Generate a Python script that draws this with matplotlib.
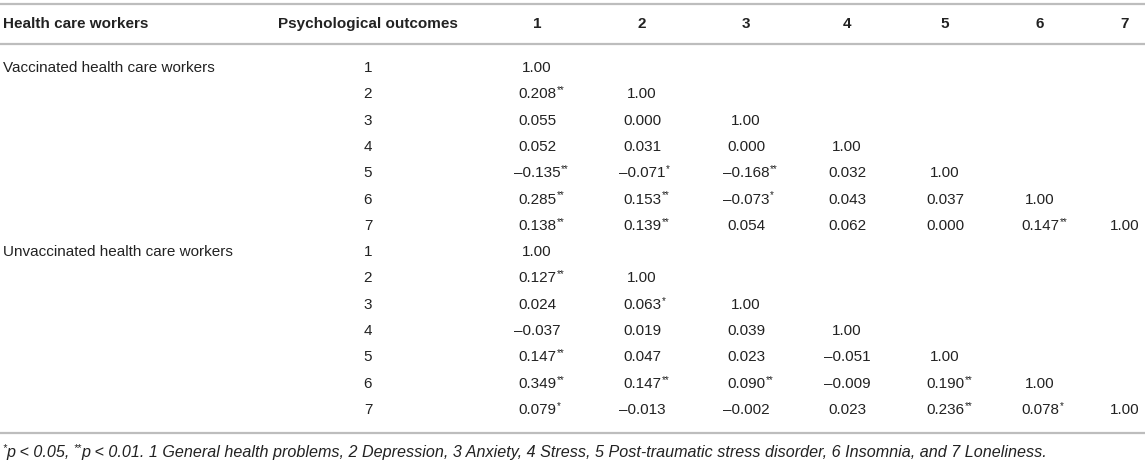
import matplotlib
matplotlib.use("Agg")
import matplotlib.pyplot as plt

plt.rcParams['font.family'] = ['Liberation Sans', 'DejaVu Sans']

# table content
groups = ["Vaccinated health care workers", "Unvaccinated health care workers"]
col_labels = ["1", "2", "3", "4", "5", "6", "7"]
vaccinated = [
    ["1.00"],
    ["0.208**", "1.00"],
    ["0.055", "0.000", "1.00"],
    ["0.052", "0.031", "0.000", "1.00"],
    ["\u20130.135**", "\u20130.071*", "\u20130.168**", "0.032", "1.00"],
    ["0.285**", "0.153**", "\u20130.073*", "0.043", "0.037", "1.00"],
    ["0.138**", "0.139**", "0.054", "0.062", "0.000", "0.147**", "1.00"],
]
unvaccinated = [
    ["1.00"],
    ["0.127**", "1.00"],
    ["0.024", "0.063*", "1.00"],
    ["\u20130.037", "0.019", "0.039", "1.00"],
    ["0.147**", "0.047", "0.023", "\u20130.051", "1.00"],
    ["0.349**", "0.147**", "0.090**", "\u20130.009", "0.190**", "1.00"],
    ["0.079*", "\u20130.013", "\u20130.002", "0.023", "0.236**", "0.078*", "1.00"],
]
footnote = [("*", True), ("p < 0.05, ", False), ("**", True),
            ("p < 0.01. 1 General health problems, 2 Depression, 3 Anxiety, 4 Stress, "
             "5 Post-traumatic stress disorder, 6 Insomnia, and 7 Loneliness.", False)]

W, H = 1145, 461
fig = plt.figure(figsize=(W / 100, H / 100), dpi=100)
ax = fig.add_axes([0, 0, 1, 1])
ax.set_xlim(0, W)
ax.set_ylim(H, 0)
ax.axis("off")

txt = "#222222"
line_c = "#bdbdbd"
fs = 11
col_x = [537, 642, 746, 847, 945, 1040, 1125]
num_x = 368
row0, row_h = 68, 26.3

fig.canvas.draw()
renderer = fig.canvas.get_renderer()
inv = ax.transData.inverted()


def right_edge(t):
    bb = t.get_window_extent(renderer)
    return inv.transform((bb.x1, bb.y1))[0]


# rules
for y in (4, 44, 433):
    ax.plot([0, W], [y, y], color=line_c, lw=1.6, solid_capstyle="butt")

# header
ax.text(3, 24, "Health care workers", fontsize=fs, fontweight="bold", color=txt,
        ha="left", va="center")
ax.text(num_x, 24, "Psychological outcomes", fontsize=fs, fontweight="bold",
        color=txt, ha="center", va="center")
for x, lab in zip(col_x, col_labels):
    ax.text(x, 24, lab, fontsize=fs, fontweight="bold", color=txt,
            ha="center", va="center")

row = 0
for g, block in zip(groups, [vaccinated, unvaccinated]):
    for i, cells in enumerate(block):
        y = row0 + row * row_h
        if i == 0:
            ax.text(3, y, g, fontsize=fs, color=txt, ha="left", va="center")
        ax.text(num_x, y, str(i + 1), fontsize=fs, color=txt, ha="center", va="center")
        for j, cell in enumerate(cells):
            num = cell.rstrip("*")
            stars = cell[len(num):]
            t = ax.text(col_x[j], y, num, fontsize=fs, color=txt,
                        ha="center", va="center")
            if stars:
                ax.text(right_edge(t) + 0.5, y - 4, stars, fontsize=7, color=txt,
                        ha="left", va="center")
        row += 1

# footnote
x = 2
fy = 452
for s, small in footnote:
    if small:
        t = ax.text(x, fy - 4, s, fontsize=7.5, color=txt, style="italic",
                    ha="left", va="center")
    else:
        t = ax.text(x, fy, s, fontsize=11.6, color=txt, style="italic",
                    ha="left", va="center")
    x = right_edge(t)

fig.savefig("out.png", dpi=100, facecolor="white")
